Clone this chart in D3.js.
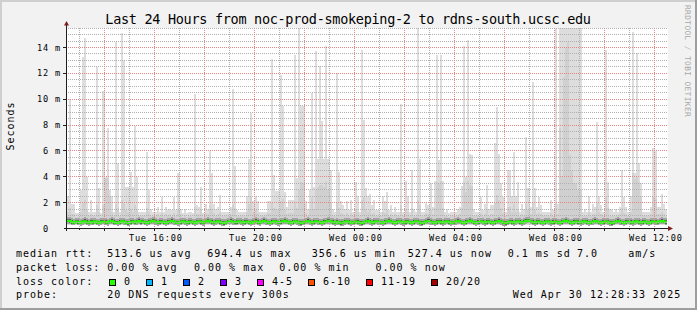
<!DOCTYPE html>
<html>
<head>
<meta charset="utf-8">
<title>smokeping</title>
<script src="https://cdn.jsdelivr.net/npm/d3@7/dist/d3.min.js"></script>
<style>
  body { margin: 0; background: #f2f2f2; }
  svg { display: block; }
  text { font-family: "DejaVu Sans Mono", monospace; fill: #000; }
  .legend { font-size: 10px; letter-spacing: 1px; }
  .ticklabel { font-size: 8.6px; letter-spacing: 0.8px; }
</style>
</head>
<body>
<svg id="chart"></svg>
<script>
var title = "Last 24 Hours from noc-prod-smokeping-2 to rdns-south.ucsc.edu";
var startTime = new Date(2025, 3, 29, 12, 30);
var endTime = new Date(2025, 3, 30, 12, 30);
var stepMinutes = 5;
var yTickValues = [0, 2, 4, 6, 8, 10, 12, 14];   // ms

// smoke, in ms, one value per 5 minute step
var rttMin = 0.3;
var rttMax = [
  2.5,10.0,1.9,1.9,1.2,1.2,3.0,13.3,14.7,4.0,1.3,2.2,
  1.3,1.3,12.5,3.1,1.2,10.6,4.0,7.8,3.0,2.5,1.3,14.4,
  5.1,1.3,15.1,13.0,3.2,3.2,4.4,3.2,7.9,4.0,1.3,1.3,
  1.3,1.3,5.9,3.0,1.5,1.3,1.3,1.7,1.3,2.4,1.3,1.7,
  1.4,1.5,1.4,2.4,1.4,4.3,1.5,1.2,1.5,1.2,1.3,1.3,
  1.2,10.4,1.8,1.7,3.2,1.2,1.9,1.5,6.0,4.3,1.9,1.5,
  1.7,2.6,1.3,1.3,1.3,1.3,1.7,10.8,4.8,1.4,1.3,1.3,
  1.3,1.3,2.5,5.4,8.9,2.1,2.5,2.1,1.3,1.3,1.3,1.3,
  2.1,2.1,13.1,4.1,2.9,2.9,11.9,9.5,2.8,1.7,2.2,2.2,
  2.2,13.4,3.9,15.5,9.5,9.5,2.1,1.5,3.0,10.5,3.2,13.7,
  5.4,12.6,8.3,5.4,14.1,5.4,4.5,1.5,1.3,12.0,4.4,2.1,
  1.8,1.5,2.1,1.4,2.2,1.3,3.6,2.5,1.3,13.8,8.4,3.1,
  2.5,2.7,1.8,2.2,1.4,1.4,1.3,2.5,2.1,2.8,1.4,1.8,
  1.3,1.7,1.3,1.3,9.6,1.3,3.7,2.5,1.3,4.5,1.5,1.3,
  15.5,5.4,1.3,1.3,2.0,1.8,3.5,1.7,3.7,13.4,5.3,13.4,
  3.7,1.3,1.5,1.2,1.3,1.3,1.3,1.5,1.7,3.3,14.1,4.0,
  14.6,5.8,5.7,1.5,1.3,1.3,2.4,1.4,1.9,3.4,1.5,1.8,
  1.8,6.6,9.4,5.8,3.5,2.4,1.3,4.5,4.5,2.5,5.9,2.5,
  3.6,1.3,1.9,1.5,7.1,3.1,1.7,11.3,3.1,1.7,2.4,1.8,
  1.3,1.3,1.3,1.3,2.2,1.4,16,1.9,16,16,16,16,
  16,16,16,16,16,16,16,1.3,1.5,1.3,2.5,1.3,
  1.9,1.7,8.2,2.5,1.8,1.3,13.8,3.6,1.5,1.5,1.3,1.5,
  1.3,1.7,4.5,2.4,1.7,1.3,2.5,15.2,4.3,13.6,5.1,3.5,
  1.3,1.3,1.3,1.3,1.7,6.2,6.0,1.7,1.7,2.7,1.9,1.5
];
var rttMid = [
  1.3,1.6,1.1,1.1,0.9,0.9,1.3,2.0,2.2,1.4,1.0,1.1,
  1.0,1.0,1.8,1.3,0.9,1.8,3.9,3.9,2.5,1.3,1.0,1.9,
  1.6,1.0,2.2,2.0,1.4,1.3,1.5,1.3,1.8,1.4,1.0,1.0,
  1.0,1.0,1.6,1.3,1.0,1.0,1.0,1.1,1.0,1.2,1.0,1.1,
  1.0,1.1,1.0,1.2,1.0,1.4,1.1,0.9,1.0,0.9,1.0,1.0,
  0.9,1.7,1.1,1.1,1.4,0.9,1.2,1.1,1.8,1.5,1.2,1.0,
  1.1,1.3,1.0,1.0,1.0,1.0,1.1,1.8,1.6,1.0,1.0,1.0,
  1.0,1.0,1.3,1.9,2.4,1.3,1.4,1.2,1.0,1.0,1.0,1.0,
  1.2,1.2,2.0,1.6,1.5,1.4,2.1,2.3,1.4,1.1,1.2,1.2,
  1.2,2.1,1.6,3.0,3.6,3.5,1.2,1.0,1.4,2.4,1.5,3.0,
  3.2,3.4,3.4,3.2,3.6,3.0,2.0,1.0,1.0,2.0,1.6,1.2,
  1.1,1.0,1.2,1.0,1.2,1.0,1.5,1.3,1.0,2.2,2.4,1.5,
  1.3,1.4,1.1,1.2,1.0,1.0,1.0,1.3,1.2,1.4,1.0,1.1,
  1.0,1.1,1.0,1.0,1.8,1.0,1.5,1.3,1.0,1.6,1.0,1.0,
  2.2,1.8,1.0,1.0,1.2,1.1,1.4,1.1,1.6,3.6,3.5,3.7,
  1.6,1.0,1.0,0.9,1.0,1.0,1.0,1.0,1.1,1.6,3.6,2.8,
  3.7,3.4,3.3,1.0,1.0,1.0,1.2,1.0,1.1,1.5,1.0,1.1,
  1.1,2.0,2.6,2.2,1.6,1.2,1.0,1.7,1.7,1.3,1.9,1.3,
  1.5,1.0,1.1,1.0,1.9,1.4,1.1,2.0,1.4,1.1,1.2,1.1,
  1.0,1.0,1.0,1.0,1.2,1.0,2.0,1.1,7.8,4.0,11.7,14.0,
  14.4,5.7,4.5,3.5,3.5,3.0,3.0,1.0,1.0,1.0,1.3,1.0,
  1.1,1.1,2.0,1.3,1.1,1.0,2.4,1.6,1.0,1.0,1.0,1.0,
  1.0,1.1,1.6,1.2,1.1,1.0,1.3,4.3,3.8,4.0,3.6,2.4,
  1.0,1.0,1.0,1.0,1.1,2.4,2.3,1.1,1.1,1.3,1.1,1.0
];
var rttMedian = [
  .60,.57,.50,.46,.53,.49,.44,.52,.56,.48,.45,.51,
  .48,.55,.47,.43,.51,.53,.49,.45,.54,.58,.50,.46,
  .44,.49,.55,.52,.46,.42,.50,.54,.47,.51,.57,.49,
  .53,.47,.44,.49,.55,.59,.51,.45,.49,.53,.47,.43,
  .49,.54,.57,.51,.46,.43,.50,.55,.51,.45,.49,.54,
  .47,.43,.51,.55,.49,.45,.53,.59,.55,.49,.45,.52,
  .55,.49,.45,.42,.47,.53,.57,.51,.47,.49,.55,.51,
  .45,.49,.54,.47,.43,.51,.56,.49,.45,.53,.57,.51,
  .47,.43,.49,.55,.51,.45,.49,.53,.59,.53,.47,.43,
  .49,.55,.51,.45,.42,.47,.53,.57,.51,.45,.49,.55,
  .51,.47,.43,.49,.53,.59,.55,.49,.45,.51,.47,.42,
  .45,.51,.55,.49,.43,.47,.53,.49,.45,.41,.47,.53,
  .57,.51,.45,.49,.55,.51,.47,.43,.49,.53,.59,.53,
  .47,.43,.49,.55,.51,.45,.49,.53,.47,.43,.49,.55,
  .51,.45,.42,.47,.53,.57,.51,.47,.43,.49,.53,.49,
  .45,.51,.55,.49,.43,.47,.51,.57,.53,.47,.43,.49,
  .53,.59,.53,.47,.43,.49,.55,.51,.45,.49,.53,.47,
  .43,.49,.53,.57,.51,.45,.42,.47,.53,.49,.45,.51,
  .55,.49,.45,.51,.57,.61,.55,.49,.45,.49,.53,.47,
  .43,.49,.55,.51,.45,.49,.53,.47,.43,.49,.55,.59,
  .53,.47,.43,.49,.53,.49,.45,.51,.55,.49,.43,.47,
  .51,.57,.53,.47,.43,.49,.55,.51,.45,.42,.47,.53,
  .57,.51,.47,.43,.49,.53,.49,.45,.51,.55,.49,.45,
  .49,.53,.47,.43,.49,.55,.51,.47,.53,.57,.53,.49
];

var rttStats = ["513.6 us avg", "694.4 us max", "356.6 us min", "527.4 us now", "0.1 ms sd", "7.0", "am/s"];
var lossStats = ["0.00 % avg", "0.00 % max", "0.00 % min", "0.00 % now"];
var lossLabels = ["0", "1", "2", "3", "4-5", "6-10", "11-19", "20/20"];
var lossColors = ["#26ff00", "#00b8ff", "#0059ff", "#7e00ff", "#ff00ff", "#ff5500", "#ff0000", "#a10000"];
var probeText = "20 DNS requests every 300s";
var stampText = "Wed Apr 30 12:28:33 2025";

var width = 697;
var height = 310;
var plotLeft = 67, plotRight = 667, plotTop = 28, plotBottom = 228;

var svg = d3.select("#chart")
            .attr("width", width)
            .attr("height", height);

// dot patterns for the rrdtool style grid
var defs = svg.append("defs");
function dotPattern(id, color, w, h){
  var p = defs.append("pattern")
              .attr("id", id)
              .attr("patternUnits", "userSpaceOnUse")
              .attr("width", w).attr("height", h);
  p.append("rect").attr("width", 1).attr("height", 1).attr("fill", color);
}
dotPattern("hMinor", "#b0b0b0", 2, 1);
dotPattern("hMajor", "#e88484", 2, 1);
dotPattern("vMinor", "#b0b0b0", 1, 2);
dotPattern("vMajor", "#e88484", 1, 2);

// background and 3d frame
svg.append("rect").attr("width", width).attr("height", height).attr("fill", "#f2f2f2");
svg.append("rect").attr("x", 0).attr("y", 0).attr("width", width).attr("height", 2).attr("fill", "#cfcfcf");
svg.append("rect").attr("x", 0).attr("y", 0).attr("width", 2).attr("height", height).attr("fill", "#cfcfcf");
svg.append("rect").attr("x", 0).attr("y", height - 2).attr("width", width).attr("height", 2).attr("fill", "#9e9e9e");
svg.append("rect").attr("x", width - 2).attr("y", 0).attr("width", 2).attr("height", height).attr("fill", "#9e9e9e");

// canvas
svg.append("rect")
   .attr("x", plotLeft).attr("y", plotTop)
   .attr("width", plotRight - plotLeft + 1).attr("height", plotBottom - plotTop)
   .attr("fill", "#ffffff");

var x = d3.scaleTime()
          .domain([startTime, endTime])
          .range([plotLeft, plotRight]);

var y = d3.scaleLinear()
          .domain([0, 14])
          .range([228.5, 47.5]);

var yLimit = y.invert(plotTop);

function stepTime(i){
  return d3.timeMinute.offset(startTime, i * stepMinutes);
}
function clip(v){
  return Math.min(v, yLimit);
}

// smoke layers
var smoke = svg.append("g").attr("shape-rendering", "crispEdges");

function layer(color, lo, hi){
  smoke.append("g")
       .attr("fill", color)
       .selectAll("rect")
       .data(rttMax)
       .join("rect")
       .attr("x", function(d, i){ return x(stepTime(i)); })
       .attr("width", function(d, i){ return x(stepTime(i + 1)) - x(stepTime(i)); })
       .attr("y", function(d, i){ return y(clip(hi(i))); })
       .attr("height", function(d, i){
         return Math.max(0, y(lo(i)) - y(clip(hi(i))));
       });
}

layer("#dddddd", function(){ return rttMin; }, function(i){ return rttMax[i]; });
layer("#d0d0d0", function(){ return rttMin + 0.05; }, function(i){ return rttMid[i]; });
layer("#a4a4a4", function(i){ return rttMedian[i] - 0.22; }, function(i){ return rttMedian[i] + 0.3; });
layer("#555555", function(i){ return rttMedian[i] - 0.12; }, function(i){ return rttMedian[i] + 0.14; });

// median line, coloured by loss (all 0)
var medianPts = rttMedian.map(function(d, i){ return [stepTime(i), d]; });
medianPts.push([stepTime(rttMedian.length), rttMedian[rttMedian.length - 1]]);

var medianLine = d3.line()
                   .x(function(d){ return x(d[0]); })
                   .y(function(d){ return y(d[1]); })
                   .curve(d3.curveStepAfter);

svg.append("path")
   .datum(medianPts)
   .attr("d", medianLine)
   .attr("fill", "none")
   .attr("stroke", lossColors[0])
   .attr("stroke-width", 2.2);

// dotted grid over the smoke
var hLines = d3.range(1, 32).map(function(k){ return k / 2; })
               .filter(function(v){ return y(v) >= plotTop; });
var hourTicks = x.ticks(d3.timeHour.every(1));

var grid = svg.append("g").attr("shape-rendering", "crispEdges");

grid.selectAll("rect.hgrid")
    .data(hLines)
    .join("rect")
    .attr("class", "hgrid")
    .attr("x", plotLeft)
    .attr("width", plotRight - plotLeft)
    .attr("y", function(d){ return Math.floor(y(d)); })
    .attr("height", 1)
    .attr("fill", function(d){ return (d % 2 === 0) ? "url(#hMajor)" : "url(#hMinor)"; });

grid.selectAll("rect.vgrid")
    .data(hourTicks)
    .join("rect")
    .attr("class", "vgrid")
    .attr("x", function(d){ return Math.floor(x(d)); })
    .attr("width", 1)
    .attr("y", plotTop)
    .attr("height", plotBottom - plotTop)
    .attr("fill", function(d){ return d.getHours() % 2 === 0 ? "url(#vMajor)" : "url(#vMinor)"; });

// axes lines, ticks and arrows
var axisColor = "#1f1f1f";
svg.append("line").attr("x1", 66.5).attr("x2", 66.5).attr("y1", 24).attr("y2", 231)
   .attr("stroke", axisColor).attr("shape-rendering", "crispEdges");
svg.append("line").attr("x1", 64).attr("x2", 670).attr("y1", 228.5).attr("y2", 228.5)
   .attr("stroke", axisColor).attr("shape-rendering", "crispEdges");

svg.append("g").selectAll("line")
   .data(hourTicks)
   .join("line")
   .attr("x1", function(d){ return Math.floor(x(d)) + 0.5; })
   .attr("x2", function(d){ return Math.floor(x(d)) + 0.5; })
   .attr("y1", 229).attr("y2", function(d){ return d.getHours() % 2 === 0 ? 231 : 230; })
   .attr("stroke", axisColor).attr("shape-rendering", "crispEdges");

svg.append("g").selectAll("line")
   .data(yTickValues.slice(1))
   .join("line")
   .attr("x1", 63).attr("x2", 66)
   .attr("y1", function(d){ return Math.floor(y(d)) + 0.5; })
   .attr("y2", function(d){ return Math.floor(y(d)) + 0.5; })
   .attr("stroke", axisColor).attr("shape-rendering", "crispEdges");

svg.append("path").attr("d", "M64,25.5L69,25.5L66.5,21Z").attr("fill", "#801f1f");
svg.append("path").attr("d", "M668,226L668,231L673,228.5Z").attr("fill", "#801f1f");

// axis labels
var yAxis = d3.axisLeft(y)
              .tickValues(yTickValues)
              .tickSize(0)
              .tickPadding(0)
              .tickFormat(function(d){ return d === 0 ? "0  " : d + " m"; });

var yg = svg.append("g")
            .attr("transform", "translate(61,0)")
            .call(yAxis);
yg.select(".domain").remove();
yg.selectAll("text")
  .attr("class", "ticklabel")
  .attr("xml:space", "preserve")
  .attr("dy", "0.3em");
yg.attr("font-family", null).attr("font-size", null);

var xAxis = d3.axisBottom(x)
              .tickValues(x.ticks(d3.timeHour.every(4)))
              .tickSize(0)
              .tickPadding(0)
              .tickFormat(d3.timeFormat("%a %H:%M"));

var xg = svg.append("g")
            .attr("transform", "translate(0.8,241)")
            .call(xAxis);
xg.select(".domain").remove();
xg.selectAll("text")
  .attr("class", "ticklabel")
  .attr("dy", "0");
xg.attr("font-family", null).attr("font-size", null);

// title and side texts
svg.append("text")
   .attr("x", 348).attr("y", 24)
   .attr("text-anchor", "middle")
   .style("font-size", "13.5px")
   .style("letter-spacing", "-0.3px")
   .text(title);

svg.append("text")
   .attr("class", "legend")
   .attr("transform", "translate(14,126) rotate(-90)")
   .attr("text-anchor", "middle")
   .text("Seconds");

svg.append("text")
   .attr("transform", "translate(684.5,5) rotate(90)")
   .style("font-size", "7.8px")
   .style("letter-spacing", "0.4px")
   .style("fill", "#a8a8a8")
   .text("RRDTOOL / TOBI OETIKER");

// legend
var rowY = [257.3, 270.9, 284.5, 298.1];
var legend = svg.append("g").attr("class", "legend");

function legendText(tx, ty, s){
  legend.append("text").attr("x", tx).attr("y", ty).text(s);
}

legendText(16, rowY[0], "median rtt:");
var rttX = [107.3, 207.3, 311.7, 407.7, 507.7, 577, 628.3];
rttStats.forEach(function(s, i){ legendText(rttX[i], rowY[0], s); });

legendText(16, rowY[1], "packet loss:");
var lossX = [107.3, 194, 279.3, 375.5];
lossStats.forEach(function(s, i){ legendText(lossX[i], rowY[1], s); });

legendText(16, rowY[2], "loss color:");
var boxX = 109;
lossLabels.forEach(function(s, i){
  legend.append("rect")
        .attr("x", boxX + 0.5).attr("y", 279.5)
        .attr("width", 6).attr("height", 6)
        .attr("fill", lossColors[i])
        .attr("stroke", "#000")
        .attr("shape-rendering", "crispEdges");
  legendText(boxX + 15, rowY[2], s);
  boxX += 30 + 7 * s.length;
});

legendText(16, rowY[3], "probe:");
legendText(107.3, rowY[3], probeText);
legendText(512.7, rowY[3], stampText);
</script>
</body>
</html>
